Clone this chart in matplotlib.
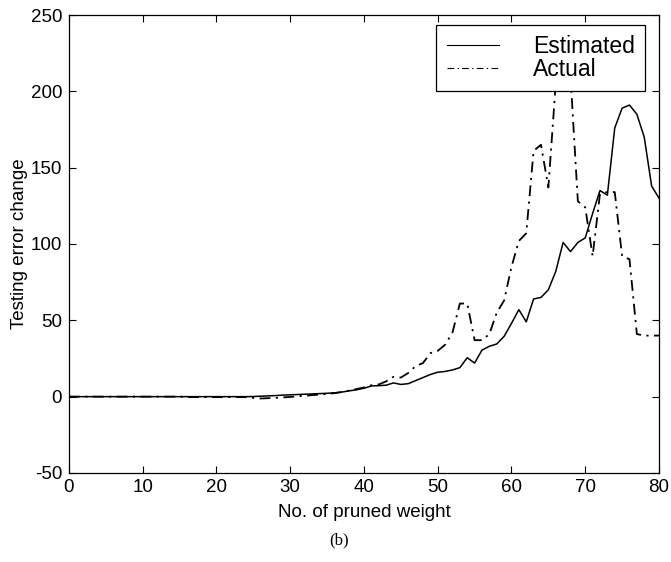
import matplotlib
matplotlib.use("Agg")
import matplotlib.pyplot as plt

# number of pruned weights
n_pruned = list(range(0, 81))

estimated = [0.0] * 25 + [
    0.1, 0.3, 0.5, 0.7, 1.0, 1.2, 1.4, 1.6, 1.8, 2.0,          # 25-34
    2.2, 2.5, 3.0, 3.8, 4.5, 5.5, 7.0, 7.2, 7.5, 9.0,          # 35-44
    8.0, 8.5, 10.5, 12.5, 14.5, 16.0, 16.5, 17.5, 19.0, 25.5,  # 45-54
    22.0, 30.5, 33.0, 34.5, 39.5, 48.0, 57.0, 49.0, 64.0, 65.0,  # 55-64
    70.0, 82.0, 101.0, 95.0, 101.0, 104.0, 120.0, 135.0, 132.0, 176.0,  # 65-74
    189.0, 191.0, 185.0, 170.0, 138.0, 130.0,                  # 75-80
]

actual = [0.0] * 16 + [-0.3] * 9 + [
    -0.8, -1.2, -1.0, -0.8, -0.5, -0.2, 0.2, 0.6, 1.0, 1.4,    # 25-34
    1.8, 2.3, 3.0, 4.0, 5.0, 6.0, 7.5, 8.0, 10.0, 13.0,        # 35-44
    12.5, 15.5, 20.0, 22.0, 28.5, 30.0, 34.0, 42.0, 61.0, 61.0,  # 45-54
    37.0, 37.0, 41.0, 55.0, 63.0, 85.0, 102.0, 107.0, 161.0, 165.0,  # 55-64
    137.0, 205.0, 235.0, 210.0, 128.0, 124.0, 92.0, 133.0, 134.0, 134.0,  # 65-74
    92.0, 90.0, 41.0, 40.0, 40.0, 40.0,                        # 75-80
]

plt.rcParams['font.family'] = ['Liberation Sans', 'DejaVu Sans']
plt.rcParams['axes.unicode_minus'] = False

fig = plt.figure(figsize=(6.71, 5.62), dpi=100)
ax = fig.add_axes([0.1028, 0.1584, 0.8793, 0.8149])

ax.plot(n_pruned, estimated, '-', color='black', linewidth=1.1, label='Estimated')
ax.plot(n_pruned, actual, color='black', linewidth=1.3,
        linestyle=(0, (6, 3, 1.2, 3)), label='Actual')

ax.set_xlim(0, 80)
ax.set_ylim(-50, 250)
ax.set_xticks(range(0, 81, 10))
ax.set_yticks(range(-50, 251, 50))
ax.tick_params(direction='in', top=True, right=True, length=5, width=0.8,
               labelsize=13.5)
ax.tick_params(axis='x', pad=4)
ax.tick_params(axis='y', pad=5)
for s in ax.spines.values():
    s.set_linewidth(0.9)

ax.set_xlabel('No. of pruned weight', fontsize=13.5, labelpad=6)
ax.set_ylabel('Testing error change', fontsize=13.5, labelpad=2)

leg = ax.legend(loc='upper right', bbox_to_anchor=(0.976, 0.979),
                fontsize=16.5, frameon=True, fancybox=False, framealpha=1,
                edgecolor='black', handlelength=2.3, handletextpad=1.45,
                borderpad=0.45, labelspacing=0.0, borderaxespad=0)
leg.get_frame().set_linewidth(0.9)
for line in leg.get_lines():
    line.set_linewidth(0.8)

fig.text(0.505, 0.039, '(b)', ha='center', va='center', fontsize=12,
         family=['Liberation Serif', 'DejaVu Serif'])

fig.savefig('out.png', dpi=100)
